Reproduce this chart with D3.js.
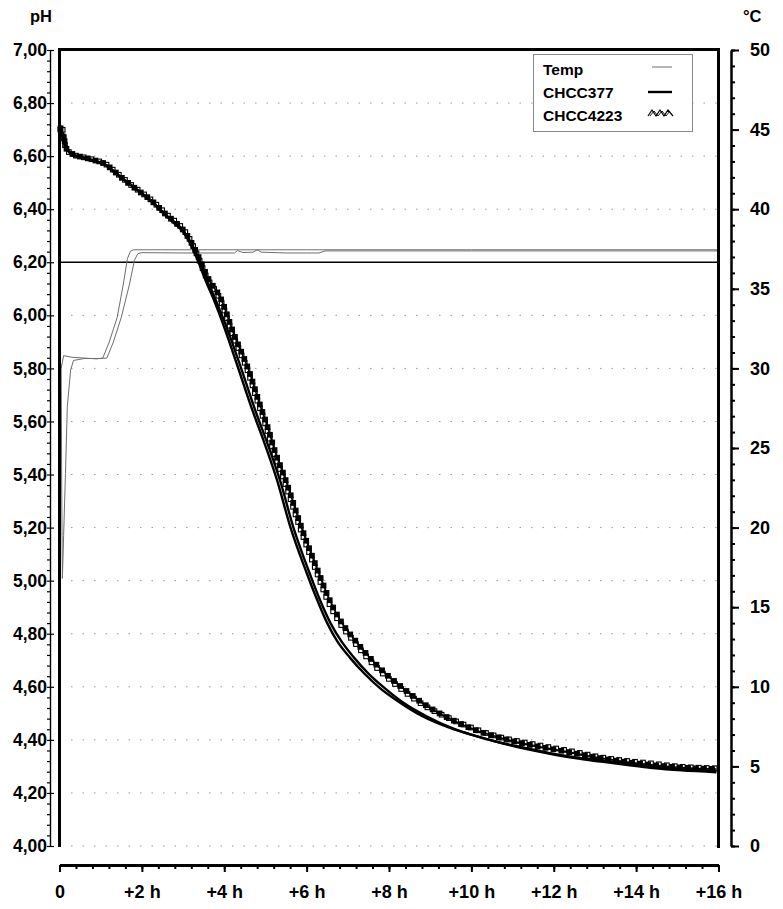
<!DOCTYPE html>
<html>
<head>
<meta charset="utf-8">
<script src="https://cdn.jsdelivr.net/npm/d3@7"></script>
<style>
  html, body { margin: 0; padding: 0; background: #fff; }
  svg { display: block; font-family: "Liberation Sans", Arial, sans-serif; font-weight: bold; }
</style>
</head>
<body>
<svg id="chart" width="783" height="909"></svg>
<script>
// ---------- data ----------
const phTicks = [4.0, 4.2, 4.4, 4.6, 4.8, 5.0, 5.2, 5.4, 5.6, 5.8, 6.0, 6.2, 6.4, 6.6, 6.8, 7.0];
const tempTicks = [0, 5, 10, 15, 20, 25, 30, 35, 40, 45, 50];
const hourTicks = [0, 2, 4, 6, 8, 10, 12, 14, 16];
const referencePH = 6.2;
const legendLabels = ["Temp", "CHCC377", "CHCC4223"];

// [hours, pH]
const chcc377A = [[0.02,6.71],[0.05,6.66],[0.08,6.69],[0.12,6.64],[0.2,6.62],[0.35,6.605],[0.6,6.595],[0.9,6.58],[1.1,6.57],[1.3,6.545],[1.5,6.52],[1.75,6.49],[2.0,6.46],[2.2,6.435],[2.4,6.405],[2.6,6.375],[2.8,6.35],[3.0,6.32],[3.15,6.28],[3.35,6.21],[3.55,6.13],[3.73,6.065],[4.0,5.955],[4.32,5.81],[4.7,5.635],[4.95,5.53],[5.28,5.38],[5.6,5.205],[6.0,5.03],[6.25,4.93],[6.5,4.84],[6.75,4.77],[7.05,4.71],[7.4,4.65],[7.78,4.595],[8.27,4.54],[8.8,4.49],[9.48,4.445],[10.1,4.415],[10.69,4.39],[11.3,4.37],[11.9,4.35],[12.5,4.335],[13.12,4.322],[13.7,4.31],[14.33,4.298],[15.0,4.29],[15.95,4.283]];
const chcc377B = [[0.02,6.70],[0.05,6.68],[0.09,6.66],[0.13,6.65],[0.2,6.625],[0.35,6.60],[0.6,6.592],[0.9,6.578],[1.1,6.568],[1.3,6.543],[1.5,6.518],[1.75,6.488],[2.0,6.458],[2.2,6.433],[2.4,6.403],[2.6,6.373],[2.8,6.345],[3.0,6.315],[3.15,6.28],[3.4,6.205],[3.6,6.125],[3.8,6.055],[4.07,5.95],[4.4,5.805],[4.78,5.63],[5.03,5.525],[5.36,5.375],[5.68,5.20],[6.08,5.025],[6.33,4.925],[6.58,4.84],[6.85,4.77],[7.15,4.71],[7.5,4.65],[7.88,4.597],[8.35,4.54],[8.9,4.49],[9.55,4.443],[10.2,4.41],[10.8,4.385],[11.4,4.363],[12.0,4.345],[12.6,4.33],[13.2,4.317],[13.8,4.305],[14.4,4.294],[15.1,4.285],[15.95,4.278]];
const chcc4223A = [[0.02,6.70],[0.05,6.67],[0.08,6.70],[0.12,6.65],[0.2,6.62],[0.35,6.605],[0.6,6.595],[0.9,6.583],[1.1,6.572],[1.3,6.548],[1.5,6.522],[1.75,6.49],[2.0,6.462],[2.2,6.438],[2.4,6.41],[2.6,6.38],[2.8,6.355],[3.0,6.325],[3.15,6.29],[3.35,6.225],[3.55,6.15],[3.9,6.06],[4.2,5.93],[4.56,5.795],[4.8,5.68],[5.04,5.57],[5.19,5.49],[5.43,5.39],[5.84,5.20],[6.25,5.03],[6.5,4.93],[6.81,4.84],[7.1,4.78],[7.47,4.71],[7.85,4.65],[8.27,4.595],[8.8,4.535],[9.48,4.48],[10.1,4.44],[10.69,4.41],[11.3,4.39],[11.9,4.372],[12.5,4.355],[13.12,4.335],[13.7,4.322],[14.33,4.312],[15.0,4.30],[15.95,4.293]];
const chcc4223B = [[0.02,6.72],[0.06,6.66],[0.1,6.68],[0.14,6.64],[0.22,6.618],[0.4,6.603],[0.65,6.593],[0.9,6.582],[1.1,6.571],[1.3,6.547],[1.5,6.52],[1.75,6.489],[2.0,6.46],[2.2,6.437],[2.4,6.408],[2.6,6.378],[2.8,6.352],[3.0,6.322],[3.15,6.288],[3.37,6.222],[3.58,6.148],[3.93,6.058],[4.23,5.93],[4.6,5.79],[4.84,5.675],[5.08,5.565],[5.23,5.488],[5.47,5.388],[5.88,5.198],[6.29,5.03],[6.55,4.93],[6.85,4.842],[7.15,4.78],[7.52,4.712],[7.9,4.652],[8.32,4.597],[8.85,4.535],[9.5,4.478],[10.1,4.437],[10.7,4.408],[11.3,4.385],[11.9,4.367],[12.5,4.35],[13.1,4.332],[13.7,4.318],[14.3,4.307],[15.0,4.297],[15.95,4.29]];

// [hours, °C]
const tempA = [[0.04,30.0],[0.1,30.8],[0.3,30.7],[0.6,30.65],[0.9,30.6],[1.05,30.65],[1.2,31.6],[1.4,33.2],[1.55,35.3],[1.65,36.9],[1.72,37.35],[1.8,37.45],[3.0,37.45],[6.0,37.45],[10.0,37.45],[16.0,37.45]];
const tempB = [[0.04,30.3],[0.055,22.0],[0.07,16.8],[0.1,19.5],[0.145,23.4],[0.19,27.6],[0.27,29.9],[0.34,30.5],[0.6,30.62],[1.0,30.62],[1.15,30.65],[1.3,31.6],[1.5,33.2],[1.7,35.3],[1.82,36.8],[1.9,37.2],[2.0,37.27],[3.0,37.25],[4.25,37.25],[4.32,37.4],[4.45,37.28],[4.7,37.3],[4.8,37.45],[4.9,37.3],[5.5,37.25],[6.3,37.25],[6.45,37.38],[10.0,37.38],[16.0,37.38]];

// ---------- scales ----------
const svg = d3.select("#chart");
const x = d3.scaleLinear().domain([0, 16]).range([59.5, 718.5]);
const yPH = d3.scaleLinear().domain([4, 7]).range([846, 50]);
const yT = d3.scaleLinear().domain([0, 50]).range([846, 50]);
const comma = d => d3.format(".2f")(d).replace(".", ",");

// ---------- grid ----------
svg.append("g").selectAll("line")
  .data(phTicks.filter(v => v < 6.99 && Math.abs(v - referencePH) > 0.01))
  .join("line")
  .attr("x1", x(0)).attr("x2", x(16))
  .attr("y1", d => yPH(d)).attr("y2", d => yPH(d))
  .attr("stroke", "#9a9a9a").attr("stroke-width", 1)
  .attr("stroke-dasharray", "1.5,10");

// reference line at 6.20
svg.append("line")
  .attr("x1", x(0)).attr("x2", x(16))
  .attr("y1", yPH(referencePH)).attr("y2", yPH(referencePH))
  .attr("stroke", "#000").attr("stroke-width", 1.6);

// ---------- temperature ----------
const tLine = d3.line().x(d => x(d[0])).y(d => yT(d[1]));
[tempA, tempB].forEach(s => {
  svg.append("path").attr("d", tLine(s))
    .attr("fill", "none").attr("stroke", "#6e6e6e").attr("stroke-width", 1);
});

// ---------- pH curves ----------
const pLine = d3.line().x(d => x(d[0])).y(d => yPH(d[1])).curve(d3.curveMonotoneX);

[chcc4223A, chcc4223B].forEach((s, i) => {
  const p = svg.append("path").attr("d", pLine(s))
    .attr("fill", "none").attr("stroke", "#000").attr("stroke-width", 1.6);
  const node = p.node();
  const total = node.getTotalLength();
  const step = 8;
  const g = svg.append("g");
  for (let l = i * step / 2; l < total; l += step) {
    const pt = node.getPointAtLength(l);
    g.append("rect")
      .attr("x", pt.x - 2.3).attr("y", pt.y - 2.3)
      .attr("width", 4.6).attr("height", 4.6)
      .attr("fill", i === 0 ? "#fff" : "#000")
      .attr("stroke", "#000").attr("stroke-width", 1.1);
  }
});

[chcc377A, chcc377B].forEach(s => {
  svg.append("path").attr("d", pLine(s))
    .attr("fill", "none").attr("stroke", "#000").attr("stroke-width", 2.4);
});

// ---------- frame ----------
svg.append("line").attr("x1", 58).attr("x2", 720).attr("y1", 49.5).attr("y2", 49.5)
  .attr("stroke", "#000").attr("stroke-width", 3);
svg.append("line").attr("x1", 59.5).attr("x2", 59.5).attr("y1", 48).attr("y2", 847)
  .attr("stroke", "#000").attr("stroke-width", 3);
svg.append("line").attr("x1", 718.5).attr("x2", 718.5).attr("y1", 48).attr("y2", 848)
  .attr("stroke", "#000").attr("stroke-width", 3);

// ---------- axes ----------
function styleAxis(g, w) {
  g.selectAll("path.domain").attr("stroke", "#000").attr("stroke-width", w);
  g.selectAll(".tick line").attr("stroke", "#000").attr("stroke-width", w);
  g.selectAll("text").attr("fill", "#000").attr("font-family", "Liberation Sans, Arial, sans-serif")
    .attr("font-weight", "bold");
}

// left pH axis
const leftMinor = svg.append("g").attr("transform", "translate(50,0)")
  .call(d3.axisLeft(yPH).tickValues(d3.range(0, 76).map(i => 4 + i * 0.04)).tickSize(3).tickFormat(""));
styleAxis(leftMinor, 1.2);
const leftMajor = svg.append("g").attr("transform", "translate(50,0)")
  .call(d3.axisLeft(yPH).tickValues(phTicks).tickSizeInner(-4).tickSizeOuter(0).tickPadding(3).tickFormat(comma));
styleAxis(leftMajor, 1.2);
leftMajor.selectAll("text").attr("font-size", 17.5);

// right temperature axis
const rightMinor = svg.append("g").attr("transform", "translate(731,0)")
  .call(d3.axisRight(yT).tickValues(d3.range(0, 51)).tickSize(4).tickSizeOuter(0).tickFormat(""));
styleAxis(rightMinor, 2);
const rightMajor = svg.append("g").attr("transform", "translate(731,0)")
  .call(d3.axisRight(yT).tickValues(tempTicks).tickSizeInner(8).tickSizeOuter(0).tickPadding(11));
styleAxis(rightMajor, 2);
rightMajor.selectAll("text").attr("font-size", 18);

// bottom time axis
const botMinor = svg.append("g").attr("transform", "translate(0,865)")
  .call(d3.axisBottom(x).tickValues(d3.range(0, 41).map(i => i * 0.4)).tickSize(4).tickSizeOuter(0).tickFormat(""));
styleAxis(botMinor, 2);
botMinor.select("path.domain").attr("stroke-width", 3);
const botMajor = svg.append("g").attr("transform", "translate(0,865)")
  .call(d3.axisBottom(x).tickValues(hourTicks).tickSizeInner(7).tickSizeOuter(0).tickPadding(13)
    .tickFormat(d => d === 0 ? "0" : "+" + d + " h"));
styleAxis(botMajor, 2);
botMajor.select("path.domain").attr("stroke-width", 3);
botMajor.selectAll("text").attr("font-size", 18);

// axis titles
svg.append("text").attr("x", 30).attr("y", 22).attr("font-size", 16.5).text("pH");
svg.append("text").attr("x", 743).attr("y", 22).attr("font-size", 16.5).text("°C");

// ---------- legend ----------
const lg = svg.append("g");
lg.append("rect").attr("x", 533.5).attr("y", 54.5).attr("width", 159).attr("height", 77)
  .attr("fill", "#fff").attr("stroke", "#8a8a8a").attr("stroke-width", 1);
const lgY = [75, 98, 121];
lg.selectAll("text").data(legendLabels).join("text")
  .attr("x", 543).attr("y", (d, i) => lgY[i]).attr("font-size", 15.5).text(d => d);
lg.append("line").attr("x1", 652).attr("x2", 672).attr("y1", 67).attr("y2", 67)
  .attr("stroke", "#6e6e6e").attr("stroke-width", 1);
lg.append("line").attr("x1", 648).attr("x2", 672).attr("y1", 92).attr("y2", 92)
  .attr("stroke", "#000").attr("stroke-width", 2.4);
lg.append("path").attr("d", "M648,116 L652,110 L656,116 L660,110 L664,116 L668,110 L673,116")
  .attr("fill", "none").attr("stroke", "#000").attr("stroke-width", 1.2);
lg.append("path").attr("d", "M650,116 L654,111 L658,116 L662,111 L666,116 L670,111")
  .attr("fill", "none").attr("stroke", "#000").attr("stroke-width", 0.9);
</script>
</body>
</html>
